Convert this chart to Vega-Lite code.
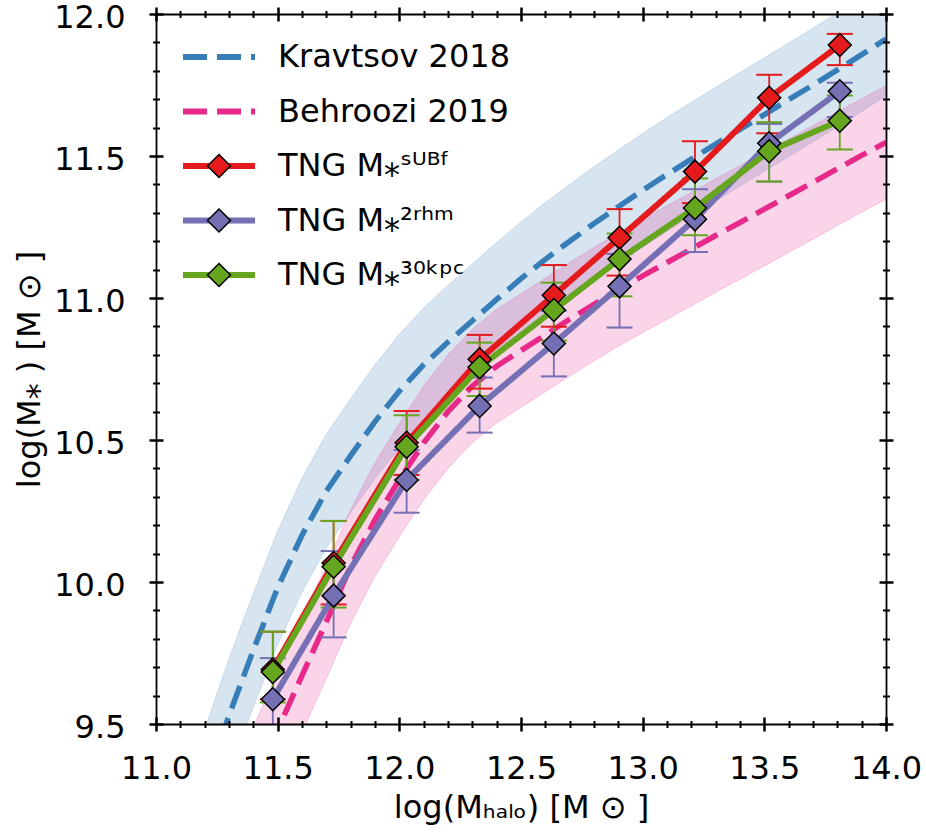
{
  "$schema": "https://vega.github.io/schema/vega-lite/v6.json",
  "width": 730,
  "height": 710,
  "autosize": {"type": "none"},
  "padding": {"left": 156, "top": 14, "right": 40, "bottom": 108},
  "config": {"view": {"stroke": null}, "font": "DejaVu Sans", "axis": {"grid": false}},
  "datasets": {
    "models": [
      {"name": "Kravtsov 2018", "x": 11.0, "y": 8.76, "lo": 8.56, "hi": 8.96},
      {"name": "Kravtsov 2018", "x": 11.1, "y": 9.02, "lo": 8.82, "hi": 9.22},
      {"name": "Kravtsov 2018", "x": 11.2, "y": 9.28, "lo": 9.08, "hi": 9.48},
      {"name": "Kravtsov 2018", "x": 11.3, "y": 9.53, "lo": 9.33, "hi": 9.73},
      {"name": "Kravtsov 2018", "x": 11.4, "y": 9.76, "lo": 9.56, "hi": 9.96},
      {"name": "Kravtsov 2018", "x": 11.5, "y": 9.98, "lo": 9.78, "hi": 10.18},
      {"name": "Kravtsov 2018", "x": 11.6, "y": 10.165, "lo": 9.965, "hi": 10.365},
      {"name": "Kravtsov 2018", "x": 11.7, "y": 10.32, "lo": 10.12, "hi": 10.52},
      {"name": "Kravtsov 2018", "x": 11.8, "y": 10.445, "lo": 10.245, "hi": 10.645},
      {"name": "Kravtsov 2018", "x": 11.9, "y": 10.565, "lo": 10.365, "hi": 10.765},
      {"name": "Kravtsov 2018", "x": 12.0, "y": 10.672, "lo": 10.472, "hi": 10.872},
      {"name": "Kravtsov 2018", "x": 12.1, "y": 10.765, "lo": 10.565, "hi": 10.965},
      {"name": "Kravtsov 2018", "x": 12.2, "y": 10.845, "lo": 10.645, "hi": 11.045},
      {"name": "Kravtsov 2018", "x": 12.3, "y": 10.92, "lo": 10.72, "hi": 11.12},
      {"name": "Kravtsov 2018", "x": 12.4, "y": 10.995, "lo": 10.795, "hi": 11.195},
      {"name": "Kravtsov 2018", "x": 12.5, "y": 11.068, "lo": 10.868, "hi": 11.268},
      {"name": "Kravtsov 2018", "x": 12.6, "y": 11.136, "lo": 10.936, "hi": 11.336},
      {"name": "Kravtsov 2018", "x": 12.7, "y": 11.2, "lo": 11.0, "hi": 11.4},
      {"name": "Kravtsov 2018", "x": 12.8, "y": 11.262, "lo": 11.062, "hi": 11.462},
      {"name": "Kravtsov 2018", "x": 12.9, "y": 11.321, "lo": 11.121, "hi": 11.521},
      {"name": "Kravtsov 2018", "x": 13.0, "y": 11.379, "lo": 11.179, "hi": 11.579},
      {"name": "Kravtsov 2018", "x": 13.1, "y": 11.435, "lo": 11.235, "hi": 11.635},
      {"name": "Kravtsov 2018", "x": 13.2, "y": 11.489, "lo": 11.289, "hi": 11.689},
      {"name": "Kravtsov 2018", "x": 13.3, "y": 11.542, "lo": 11.342, "hi": 11.742},
      {"name": "Kravtsov 2018", "x": 13.4, "y": 11.594, "lo": 11.394, "hi": 11.794},
      {"name": "Kravtsov 2018", "x": 13.5, "y": 11.646, "lo": 11.446, "hi": 11.846},
      {"name": "Kravtsov 2018", "x": 13.6, "y": 11.698, "lo": 11.498, "hi": 11.898},
      {"name": "Kravtsov 2018", "x": 13.7, "y": 11.75, "lo": 11.55, "hi": 11.95},
      {"name": "Kravtsov 2018", "x": 13.8, "y": 11.803, "lo": 11.603, "hi": 12.003},
      {"name": "Kravtsov 2018", "x": 13.9, "y": 11.857, "lo": 11.657, "hi": 12.057},
      {"name": "Kravtsov 2018", "x": 14.0, "y": 11.912, "lo": 11.712, "hi": 12.112},
      {"name": "Behroozi 2019", "x": 11.2, "y": 8.87, "lo": 8.67, "hi": 9.07},
      {"name": "Behroozi 2019", "x": 11.3, "y": 9.08, "lo": 8.88, "hi": 9.28},
      {"name": "Behroozi 2019", "x": 11.4, "y": 9.29, "lo": 9.09, "hi": 9.49},
      {"name": "Behroozi 2019", "x": 11.5, "y": 9.48, "lo": 9.28, "hi": 9.68},
      {"name": "Behroozi 2019", "x": 11.6, "y": 9.67, "lo": 9.47, "hi": 9.87},
      {"name": "Behroozi 2019", "x": 11.7, "y": 9.86, "lo": 9.66, "hi": 10.06},
      {"name": "Behroozi 2019", "x": 11.8, "y": 10.055, "lo": 9.855, "hi": 10.255},
      {"name": "Behroozi 2019", "x": 11.9, "y": 10.22, "lo": 10.02, "hi": 10.42},
      {"name": "Behroozi 2019", "x": 12.0, "y": 10.36, "lo": 10.16, "hi": 10.56},
      {"name": "Behroozi 2019", "x": 12.1, "y": 10.49, "lo": 10.29, "hi": 10.69},
      {"name": "Behroozi 2019", "x": 12.2, "y": 10.6, "lo": 10.4, "hi": 10.8},
      {"name": "Behroozi 2019", "x": 12.3, "y": 10.69, "lo": 10.49, "hi": 10.89},
      {"name": "Behroozi 2019", "x": 12.4, "y": 10.76, "lo": 10.56, "hi": 10.96},
      {"name": "Behroozi 2019", "x": 12.5, "y": 10.815, "lo": 10.615, "hi": 11.015},
      {"name": "Behroozi 2019", "x": 12.6, "y": 10.87, "lo": 10.67, "hi": 11.07},
      {"name": "Behroozi 2019", "x": 12.7, "y": 10.925, "lo": 10.725, "hi": 11.125},
      {"name": "Behroozi 2019", "x": 12.8, "y": 10.978, "lo": 10.778, "hi": 11.178},
      {"name": "Behroozi 2019", "x": 12.9, "y": 11.03, "lo": 10.83, "hi": 11.23},
      {"name": "Behroozi 2019", "x": 13.0, "y": 11.078, "lo": 10.878, "hi": 11.278},
      {"name": "Behroozi 2019", "x": 13.1, "y": 11.125, "lo": 10.925, "hi": 11.325},
      {"name": "Behroozi 2019", "x": 13.2, "y": 11.172, "lo": 10.972, "hi": 11.372},
      {"name": "Behroozi 2019", "x": 13.3, "y": 11.22, "lo": 11.02, "hi": 11.42},
      {"name": "Behroozi 2019", "x": 13.4, "y": 11.266, "lo": 11.066, "hi": 11.466},
      {"name": "Behroozi 2019", "x": 13.5, "y": 11.313, "lo": 11.113, "hi": 11.513},
      {"name": "Behroozi 2019", "x": 13.6, "y": 11.36, "lo": 11.16, "hi": 11.56},
      {"name": "Behroozi 2019", "x": 13.7, "y": 11.407, "lo": 11.207, "hi": 11.607},
      {"name": "Behroozi 2019", "x": 13.8, "y": 11.455, "lo": 11.255, "hi": 11.655},
      {"name": "Behroozi 2019", "x": 13.9, "y": 11.502, "lo": 11.302, "hi": 11.702},
      {"name": "Behroozi 2019", "x": 14.0, "y": 11.548, "lo": 11.348, "hi": 11.748}
    ],
    "tng": [
      {"name": "TNG M⁎ˢᵁᴮᶠ", "x": 11.48, "y": 9.692, "lo": 9.587, "hi": 9.825},
      {"name": "TNG M⁎ˢᵁᴮᶠ", "x": 11.73, "y": 10.067, "lo": 9.921, "hi": 10.215},
      {"name": "TNG M⁎ˢᵁᴮᶠ", "x": 12.03, "y": 10.49, "lo": 10.377, "hi": 10.602},
      {"name": "TNG M⁎ˢᵁᴮᶠ", "x": 12.33, "y": 10.784, "lo": 10.681, "hi": 10.87},
      {"name": "TNG M⁎ˢᵁᴮᶠ", "x": 12.635, "y": 11.01, "lo": 10.899, "hi": 11.116},
      {"name": "TNG M⁎ˢᵁᴮᶠ", "x": 12.905, "y": 11.212, "lo": 11.079, "hi": 11.313},
      {"name": "TNG M⁎ˢᵁᴮᶠ", "x": 13.215, "y": 11.445, "lo": 11.334, "hi": 11.552},
      {"name": "TNG M⁎ˢᵁᴮᶠ", "x": 13.52, "y": 11.705, "lo": 11.58, "hi": 11.786},
      {"name": "TNG M⁎ˢᵁᴮᶠ", "x": 13.81, "y": 11.891, "lo": 11.82, "hi": 11.93},
      {"name": "TNG M⁎²ʳʰᵐ", "x": 11.48, "y": 9.587, "lo": 9.44, "hi": 9.732},
      {"name": "TNG M⁎²ʳʰᵐ", "x": 11.73, "y": 9.952, "lo": 9.805, "hi": 10.109},
      {"name": "TNG M⁎²ʳʰᵐ", "x": 12.03, "y": 10.359, "lo": 10.244, "hi": 10.465},
      {"name": "TNG M⁎²ʳʰᵐ", "x": 12.33, "y": 10.62, "lo": 10.526, "hi": 10.72},
      {"name": "TNG M⁎²ʳʰᵐ", "x": 12.635, "y": 10.84, "lo": 10.724, "hi": 10.955},
      {"name": "TNG M⁎²ʳʰᵐ", "x": 12.905, "y": 11.041, "lo": 10.896, "hi": 11.155},
      {"name": "TNG M⁎²ʳʰᵐ", "x": 13.215, "y": 11.277, "lo": 11.162, "hi": 11.383},
      {"name": "TNG M⁎²ʳʰᵐ", "x": 13.52, "y": 11.545, "lo": 11.41, "hi": 11.613},
      {"name": "TNG M⁎²ʳʰᵐ", "x": 13.81, "y": 11.728, "lo": 11.637, "hi": 11.758},
      {"name": "TNG M⁎³⁰ᵏᵖᶜ", "x": 11.48, "y": 9.683, "lo": 9.576, "hi": 9.825},
      {"name": "TNG M⁎³⁰ᵏᵖᶜ", "x": 11.73, "y": 10.054, "lo": 9.91, "hi": 10.215},
      {"name": "TNG M⁎³⁰ᵏᵖᶜ", "x": 12.03, "y": 10.476, "lo": 10.359, "hi": 10.587},
      {"name": "TNG M⁎³⁰ᵏᵖᶜ", "x": 12.33, "y": 10.756, "lo": 10.655, "hi": 10.843},
      {"name": "TNG M⁎³⁰ᵏᵖᶜ", "x": 12.635, "y": 10.958, "lo": 10.85, "hi": 11.054},
      {"name": "TNG M⁎³⁰ᵏᵖᶜ", "x": 12.905, "y": 11.137, "lo": 11.006, "hi": 11.227},
      {"name": "TNG M⁎³⁰ᵏᵖᶜ", "x": 13.215, "y": 11.317, "lo": 11.221, "hi": 11.421},
      {"name": "TNG M⁎³⁰ᵏᵖᶜ", "x": 13.52, "y": 11.517, "lo": 11.41, "hi": 11.619},
      {"name": "TNG M⁎³⁰ᵏᵖᶜ", "x": 13.81, "y": 11.624, "lo": 11.523, "hi": 11.713}
    ]
  },
  "resolve": {"axis": {"x": "independent", "y": "independent"}},
  "layer": [
    {
      "data": {"name": "models"},
      "transform": [{"filter": "datum.name === 'Kravtsov 2018'"}],
      "mark": {"type": "area", "clip": true, "fill": "#377eb8", "fillOpacity": 0.2, "stroke": "#377eb8", "strokeOpacity": 0.2, "strokeWidth": 1},
      "encoding": {
        "x": {"field": "x", "type": "quantitative", "scale": {"domain": [11, 14], "nice": false, "zero": false},
          "axis": {"orient": "bottom", "values": [11, 11.5, 12, 12.5, 13, 13.5, 14], "format": ".1f", "offset": -7, "tickSize": 14, "tickWidth": 2.5, "tickColor": "black", "domain": false, "grid": false, "labelFontSize": 32, "labelFont": "DejaVu Sans", "labelColor": "black", "labelPadding": 22, "labelFlush": false, "labelOverlap": false, "title": "log(Mₕₐₗₒ) [M ⊙ ]", "titleFontSize": 32, "titleFont": "DejaVu Sans", "titleFontWeight": "normal", "titleColor": "black", "titlePadding": 8, "zindex": 1}},
        "y": {"field": "lo", "type": "quantitative", "scale": {"domain": [9.5, 12], "nice": false, "zero": false},
          "axis": {"orient": "left", "values": [9.5, 10, 10.5, 11, 11.5, 12], "format": ".1f", "offset": -7, "tickSize": 14, "tickWidth": 2.5, "tickColor": "black", "domain": false, "grid": false, "labelFontSize": 32, "labelFont": "DejaVu Sans", "labelColor": "black", "labelPadding": 24, "labelOffset": 3, "labelFlush": false, "labelOverlap": false, "title": "log(M⁎ ) [M ⊙ ]", "titleFontSize": 32, "titleFont": "DejaVu Sans", "titleFontWeight": "normal", "titleColor": "black", "titlePadding": 7, "zindex": 1}},
        "y2": {"field": "hi"}
      }
    },
    {
      "data": {"name": "models"},
      "transform": [{"filter": "datum.name === 'Behroozi 2019'"}],
      "mark": {"type": "area", "clip": true, "fill": "#e7298a", "fillOpacity": 0.2, "stroke": "#e7298a", "strokeOpacity": 0.2, "strokeWidth": 1},
      "encoding": {
        "x": {"field": "x", "type": "quantitative", "scale": {"domain": [11, 14], "nice": false, "zero": false},
          "axis": {"orient": "bottom", "values": [11.1, 11.2, 11.3, 11.4, 11.6, 11.7, 11.8, 11.9, 12.1, 12.2, 12.3, 12.4, 12.6, 12.7, 12.8, 12.9, 13.1, 13.2, 13.3, 13.4, 13.6, 13.7, 13.8, 13.9], "offset": -3.5, "tickSize": 7, "tickWidth": 2, "tickColor": "black", "domain": false, "grid": false, "labels": false, "title": null, "zindex": 1}},
        "y": {"field": "lo", "type": "quantitative", "scale": {"domain": [9.5, 12], "nice": false, "zero": false},
          "axis": {"orient": "left", "values": [9.6, 9.7, 9.8, 9.9, 10.1, 10.2, 10.3, 10.4, 10.6, 10.7, 10.8, 10.9, 11.1, 11.2, 11.3, 11.4, 11.6, 11.7, 11.8, 11.9], "offset": -3.5, "tickSize": 7, "tickWidth": 2, "tickColor": "black", "domain": false, "grid": false, "labels": false, "title": null, "zindex": 1}},
        "y2": {"field": "hi"}
      }
    },
    {
      "data": {"name": "models"},
      "mark": {"type": "line", "clip": true, "strokeWidth": 5.5},
      "encoding": {
        "x": {"field": "x", "type": "quantitative", "scale": {"domain": [11, 14], "nice": false, "zero": false},
          "axis": {"orient": "top", "values": [11, 11.5, 12, 12.5, 13, 13.5, 14], "offset": -7, "tickSize": 14, "tickWidth": 2.5, "tickColor": "black", "domain": false, "grid": false, "labels": false, "title": null, "zindex": 1}},
        "y": {"field": "y", "type": "quantitative", "scale": {"domain": [9.5, 12], "nice": false, "zero": false},
          "axis": {"orient": "right", "values": [9.5, 10, 10.5, 11, 11.5, 12], "offset": -7, "tickSize": 14, "tickWidth": 2.5, "tickColor": "black", "domain": false, "grid": false, "labels": false, "title": null, "zindex": 1}},
        "color": {"field": "name", "type": "nominal",
          "scale": {"domain": ["Kravtsov 2018", "Behroozi 2019", "TNG M⁎ˢᵁᴮᶠ", "TNG M⁎²ʳʰᵐ", "TNG M⁎³⁰ᵏᵖᶜ"], "range": ["#377eb8", "#e7298a", "#e41a1c", "#7570b3", "#66a61e"]},
          "legend": {"orient": "none", "legendX": 47, "legendY": 27, "title": null, "padding": 0, "symbolType": "M-3.6,0L3.6,0", "symbolSize": 400, "symbolStrokeWidth": 6, "labelFontSize": 32, "labelFont": "DejaVu Sans", "labelColor": "black", "labelOffset": 43, "labelLimit": 500, "rowPadding": 22.5}},
        "strokeDash": {"field": "name", "type": "nominal",
          "scale": {"domain": ["Kravtsov 2018", "Behroozi 2019", "TNG M⁎ˢᵁᴮᶠ", "TNG M⁎²ʳʰᵐ", "TNG M⁎³⁰ᵏᵖᶜ"], "range": [[24, 10], [24, 10], [1, 0], [1, 0], [1, 0]]},
          "legend": {"orient": "none", "legendX": 47, "legendY": 27, "title": null, "padding": 0, "symbolType": "M-3.6,0L3.6,0", "symbolSize": 400, "symbolStrokeWidth": 6, "labelFontSize": 32, "labelFont": "DejaVu Sans", "labelColor": "black", "labelOffset": 43, "labelLimit": 500, "rowPadding": 22.5}}
      }
    },
    {
      "data": {"name": "tng"},
      "mark": {"type": "rule", "clip": true, "strokeWidth": 1.8},
      "encoding": {
        "x": {"field": "x", "type": "quantitative", "scale": {"domain": [11, 14], "nice": false, "zero": false},
          "axis": {"orient": "top", "values": [11.1, 11.2, 11.3, 11.4, 11.6, 11.7, 11.8, 11.9, 12.1, 12.2, 12.3, 12.4, 12.6, 12.7, 12.8, 12.9, 13.1, 13.2, 13.3, 13.4, 13.6, 13.7, 13.8, 13.9], "offset": -3.5, "tickSize": 7, "tickWidth": 2, "tickColor": "black", "domain": false, "grid": false, "labels": false, "title": null, "zindex": 1}},
        "y": {"field": "lo", "type": "quantitative", "scale": {"domain": [9.5, 12], "nice": false, "zero": false},
          "axis": {"orient": "right", "values": [9.6, 9.7, 9.8, 9.9, 10.1, 10.2, 10.3, 10.4, 10.6, 10.7, 10.8, 10.9, 11.1, 11.2, 11.3, 11.4, 11.6, 11.7, 11.8, 11.9], "offset": -3.5, "tickSize": 7, "tickWidth": 2, "tickColor": "black", "domain": false, "grid": false, "labels": false, "title": null, "zindex": 1}},
        "y2": {"field": "hi"},
        "color": {"field": "name", "type": "nominal", "legend": null}
      }
    },
    {
      "data": {"name": "tng"},
      "mark": {"type": "tick", "clip": true, "orient": "horizontal", "size": 26, "thickness": 2, "opacity": 1},
      "encoding": {
        "x": {"field": "x", "type": "quantitative", "scale": {"domain": [11, 14], "nice": false, "zero": false},
          "axis": {"orient": "bottom", "domain": true, "domainColor": "black", "domainWidth": 1.8, "ticks": false, "labels": false, "grid": false, "title": null, "zindex": 1}},
        "y": {"field": "hi", "type": "quantitative", "scale": {"domain": [9.5, 12], "nice": false, "zero": false},
          "axis": {"orient": "left", "domain": true, "domainColor": "black", "domainWidth": 1.8, "ticks": false, "labels": false, "grid": false, "title": null, "zindex": 1}},
        "color": {"field": "name", "type": "nominal", "legend": null}
      }
    },
    {
      "data": {"name": "tng"},
      "mark": {"type": "tick", "clip": true, "orient": "horizontal", "size": 26, "thickness": 2, "opacity": 1},
      "encoding": {
        "x": {"field": "x", "type": "quantitative", "scale": {"domain": [11, 14], "nice": false, "zero": false},
          "axis": {"orient": "top", "domain": true, "domainColor": "black", "domainWidth": 1.8, "ticks": false, "labels": false, "grid": false, "title": null, "zindex": 1}},
        "y": {"field": "lo", "type": "quantitative", "scale": {"domain": [9.5, 12], "nice": false, "zero": false},
          "axis": {"orient": "right", "domain": true, "domainColor": "black", "domainWidth": 1.8, "ticks": false, "labels": false, "grid": false, "title": null, "zindex": 1}},
        "color": {"field": "name", "type": "nominal", "legend": null}
      }
    },
    {
      "data": {"name": "tng"},
      "mark": {"type": "line", "clip": true, "strokeWidth": 6},
      "encoding": {
        "x": {"field": "x", "type": "quantitative", "scale": {"domain": [11, 14], "nice": false, "zero": false}, "axis": null},
        "y": {"field": "y", "type": "quantitative", "scale": {"domain": [9.5, 12], "nice": false, "zero": false}, "axis": null},
        "color": {"field": "name", "type": "nominal",
          "legend": {"orient": "none", "legendX": 47, "legendY": 27, "title": null, "padding": 0, "symbolType": "M-3.6,0L3.6,0", "symbolSize": 400, "symbolStrokeWidth": 6, "labelFontSize": 32, "labelFont": "DejaVu Sans", "labelColor": "black", "labelOffset": 43, "labelLimit": 500, "rowPadding": 22.5}},
        "strokeDash": {"field": "name", "type": "nominal",
          "legend": {"orient": "none", "legendX": 47, "legendY": 27, "title": null, "padding": 0, "symbolType": "M-3.6,0L3.6,0", "symbolSize": 400, "symbolStrokeWidth": 6, "labelFontSize": 32, "labelFont": "DejaVu Sans", "labelColor": "black", "labelOffset": 43, "labelLimit": 500, "rowPadding": 22.5}}
      }
    },
    {
      "data": {"name": "tng"},
      "mark": {"type": "point", "clip": true, "shape": "M0,-1.15L1.15,0L0,1.15L-1.15,0Z", "size": 400, "filled": true, "stroke": "black", "strokeWidth": 1.5, "opacity": 1},
      "encoding": {
        "x": {"field": "x", "type": "quantitative", "scale": {"domain": [11, 14], "nice": false, "zero": false}, "axis": null},
        "y": {"field": "y", "type": "quantitative", "scale": {"domain": [9.5, 12], "nice": false, "zero": false}, "axis": null},
        "fill": {"field": "name", "type": "nominal",
          "scale": {"domain": ["TNG M⁎ˢᵁᴮᶠ", "TNG M⁎²ʳʰᵐ", "TNG M⁎³⁰ᵏᵖᶜ"], "range": ["#e41a1c", "#7570b3", "#66a61e"]},
          "legend": {"orient": "none", "legendX": 47, "legendY": 136, "title": null, "padding": 0, "symbolType": "M0,-1.15L1.15,0L0,1.15L-1.15,0Z", "symbolSize": 400, "symbolStrokeColor": "black", "symbolStrokeWidth": 1.5, "symbolOpacity": 1, "labelFontSize": 32, "labelFont": "DejaVu Sans", "labelOpacity": 0, "labelOffset": 43, "labelLimit": 500, "rowPadding": 22.5}}
      }
    }
  ]
}
